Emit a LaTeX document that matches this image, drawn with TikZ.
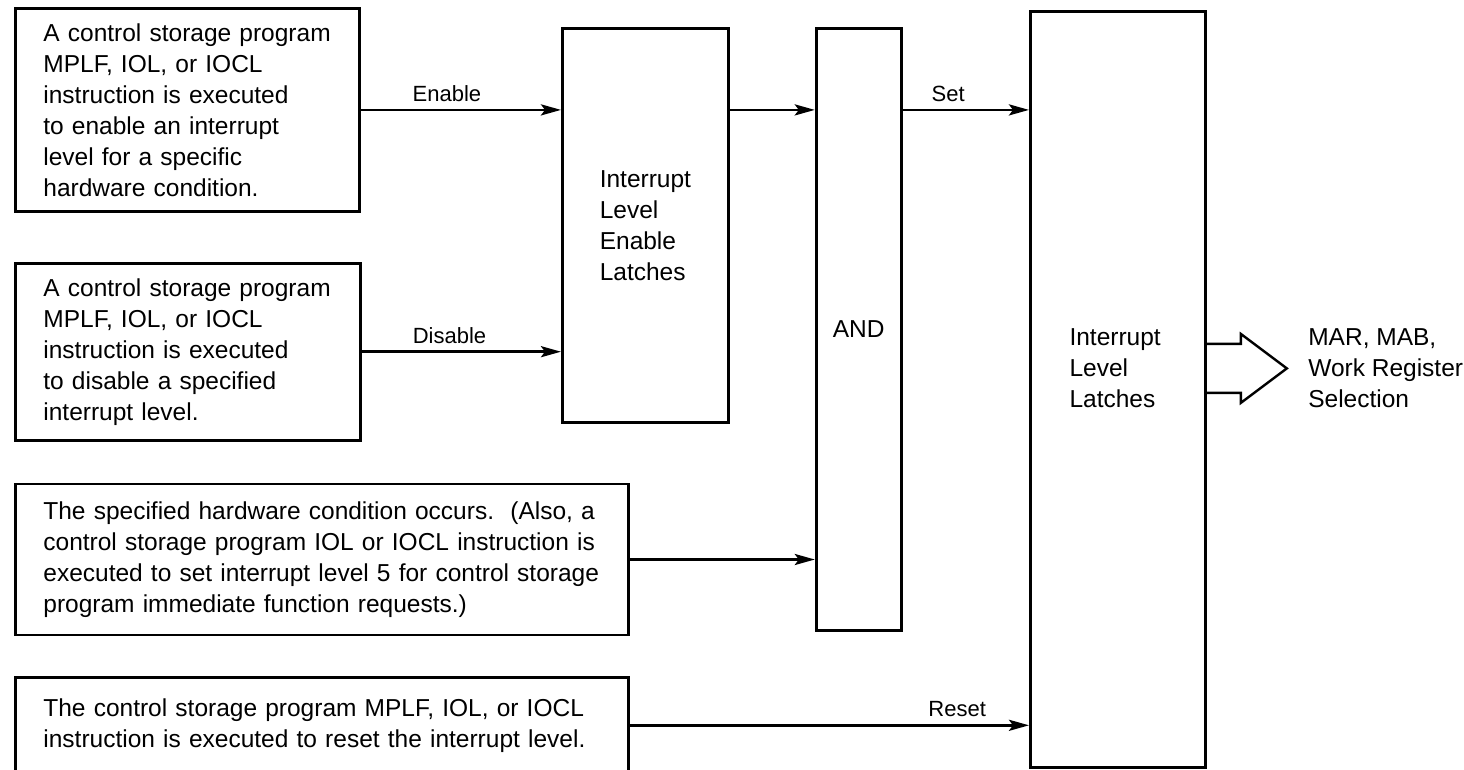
\documentclass[tikz,border=0pt]{standalone}
\usepackage{fontspec}
\setmainfont{Liberation Sans}
\usetikzlibrary{arrows.meta, positioning}

\newcommand{\reqfont}{\fontsize{24.5bp}{31bp}\selectfont}
\newcommand{\tagfont}{\fontsize{22bp}{26bp}\selectfont}

\begin{document}
\begin{tikzpicture}[
  reqbox/.style = {rectangle, draw, line width=2.8bp, anchor=north west,
                   align=left, inner xsep=28bp, font=\reqfont},
  latch/.style  = {rectangle, draw, line width=2.8bp, anchor=north west,
                   align=left, font=\reqfont},
  arrow/.style  = {-{Stealth[length=20bp, width=11bp, inset=4bp]},
                   line width=2.8bp},
  lbl/.style    = {above=5bp, inner sep=2bp, font=\tagfont},
  bigarrow/.style = {line width=2.4bp, line join=miter}
]
\useasboundingbox (0,0) rectangle (1464bp,-770bp);

% request boxes on the left
\node[reqbox, text width=288bp, minimum height=203bp] (enreq) at (14bp,-7bp)
  {A control storage program\\MPLF, IOL, or IOCL\\instruction is executed\\to enable an interrupt\\level for a specific\\hardware condition.};

\node[reqbox, text width=289bp, minimum height=177bp,
      below=49bp of enreq.south west, anchor=north west] (disreq)
  {A control storage program\\MPLF, IOL, or IOCL\\instruction is executed\\to disable a specified\\interrupt level.};

\node[reqbox, text width=557bp, minimum height=151bp,
      below=41bp of disreq.south west, anchor=north west] (hwcond)
  {The specified hardware condition occurs.\ \ (Also, a\\control storage program IOL or IOCL instruction is\\executed to set interrupt level 5 for control storage\\program immediate function requests.)};

\node[reqbox, text width=557bp, minimum height=95bp,
      below=40bp of hwcond.south west, anchor=north west] (rstreq)
  {The control storage program MPLF, IOL, or IOCL\\instruction is executed to reset the interrupt level.};

% latches and gate
\node[latch, minimum width=166bp, minimum height=394bp] (enlatch) at (561bp,-27bp)
  {Interrupt\\Level\\Enable\\Latches};

\node[latch, minimum width=85bp, minimum height=602bp,
      right=85bp of enlatch.north east, anchor=north west] (andgate) {AND};

\node[latch, minimum width=175bp, minimum height=756bp] (intlatch) at (1029bp,-10bp) {};

\node[font=\reqfont, align=left, right=37bp of intlatch.west, yshift=21bp] (intlatchtxt)
  {Interrupt\\Level\\Latches};

\node[font=\reqfont, align=left, right=98bp of intlatch.east, yshift=21bp] (outtxt)
  {MAR, MAB,\\Work Register\\Selection};

% connectors
\draw[arrow] (enreq)  -- node[lbl, pos=.43]{Enable}  (enreq -| enlatch.west);
\draw[arrow] (disreq) -- node[lbl, pos=.44]{Disable} (disreq -| enlatch.west);
\draw[arrow] (enreq -| enlatch.east) -- (enreq -| andgate.west);
\draw[arrow] (enreq -| andgate.east) -- node[lbl, pos=.36]{Set} (enreq -| intlatch.west);
\draw[arrow] (hwcond) -- (hwcond -| andgate.west);
\draw[arrow] (rstreq) -- node[lbl, pos=.82]{Reset} (rstreq -| intlatch.west);

% wide output arrow
\draw[bigarrow] (intlatch.east |- outtxt.west) ++(0,24.5bp) -- ++(34bp,0) -- ++(0,10bp)
  -- ++(46bp,-34.5bp) -- ++(-46bp,-34.5bp) -- ++(0,10bp) -- ++(-34bp,0);

\end{tikzpicture}
\end{document}
